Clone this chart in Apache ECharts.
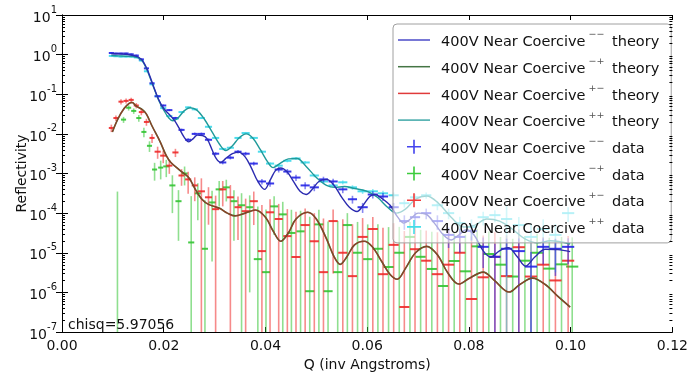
<!DOCTYPE html>
<html><head><meta charset="utf-8">
<script src="https://cdn.jsdelivr.net/npm/echarts@6/dist/echarts.min.js"></script>
<style>html,body{margin:0;padding:0;background:#fff;}#c{width:691px;height:377px;}</style>
</head><body><div id="c"></div>
<script>
// ---------- axis ticks ----------
const xTickValues = [0, 0.02, 0.04, 0.06, 0.08, 0.10, 0.12];
const yMinorTicks = [2e-7,3e-7,4e-7,5e-7,6e-7,7e-7,8e-7,9e-7,2e-6,3e-6,4e-6,5e-6,6e-6,7e-6,8e-6,9e-6,
  2e-5,3e-5,4e-5,5e-5,6e-5,7e-5,8e-5,9e-5,2e-4,3e-4,4e-4,5e-4,6e-4,7e-4,8e-4,9e-4,
  2e-3,3e-3,4e-3,5e-3,6e-3,7e-3,8e-3,9e-3,0.02,0.03,0.04,0.05,0.06,0.07,0.08,0.09,
  0.2,0.3,0.4,0.5,0.6,0.7,0.8,0.9,2,3,4,5,6,7,8,9];

// ---------- theory curves ----------
const thMM_Q = [0.0097,0.0110,0.0125,0.0140,0.0150,0.0160,0.0170,0.0180,0.0190,0.0200,0.0210,0.0220,0.0230,0.0240,0.0249,0.0258,0.0266,0.0276,0.0285,0.0295,0.0303,0.0312,0.0322,0.0335,0.0347,0.0360,0.0372,0.0385,0.0398,0.0410,0.0420,0.0430,0.0442,0.0455,0.0468,0.0480,0.0492,0.0505,0.0520,0.0535,0.0550,0.0565,0.0580,0.0592,0.0605,0.0615,0.0628,0.0645,0.0660,0.0672,0.0685,0.0700,0.0715,0.0732,0.0750,0.0765,0.0780,0.0795,0.0810,0.0828,0.0843,0.0860,0.0877,0.0895,0.0911,0.0930,0.0950,0.0975,0.0999];
const thMM_R = [1.05,1.05,1.02,0.95,0.87,0.66,0.355,0.158,7.4e-2,4.37e-2,3.16e-2,2.29e-2,1.41e-2,8.3e-3,6.3e-3,7.6e-3,9.3e-3,9.1e-3,7.6e-3,3.98e-3,2.4e-3,1.9e-3,2.4e-3,3.16e-3,3.47e-3,2.63e-3,1.41e-3,6.3e-4,3.98e-4,7.1e-4,1.2e-3,1.38e-3,1.12e-3,6.3e-4,3.55e-4,2.95e-4,3.98e-4,6.3e-4,7.1e-4,5.0e-4,2.51e-4,1.41e-4,1.1e-4,1.58e-4,2.63e-4,2.95e-4,2.4e-4,1.58e-4,7.9e-5,5.6e-5,7.1e-5,1.0e-4,9.5e-5,5.6e-5,2.8e-5,2.1e-5,2.8e-5,3.8e-5,2.8e-5,1.12e-5,7.8e-6,1.12e-5,1.35e-5,7.9e-6,4.6e-6,7.9e-6,1.23e-5,1.2e-5,1.07e-5];
const thPP_Q = [0.0097,0.0110,0.0125,0.0140,0.0150,0.0160,0.0170,0.0180,0.0190,0.0200,0.0210,0.0218,0.0228,0.0240,0.0252,0.0265,0.0280,0.0295,0.0310,0.0322,0.0335,0.0348,0.0362,0.0375,0.0390,0.0405,0.0415,0.0428,0.0445,0.0462,0.0480,0.0500,0.0520,0.0537,0.0555,0.0575,0.0600,0.0620,0.0640,0.0658,0.0675,0.0695,0.0717,0.0740,0.0765,0.0790,0.0812,0.0835,0.0860,0.0885,0.0910,0.0935,0.0960,0.0999];
const thPP_R = [0.95,0.93,0.91,0.89,0.83,0.63,0.33,0.151,7.1e-2,3.98e-2,2.51e-2,2.14e-2,2.51e-2,3.8e-2,4.57e-2,3.98e-2,2.34e-2,1.12e-2,5.4e-3,3.8e-3,5.0e-3,7.9e-3,1.0e-2,7.9e-3,3.98e-3,1.9e-3,1.41e-3,1.78e-3,2.34e-3,2.4e-3,1.51e-3,7.9e-4,5.0e-4,4.47e-4,4.68e-4,4.17e-4,3.55e-4,2.51e-4,1.41e-4,1.0e-4,1.26e-4,2.24e-4,2.7e-4,1.78e-4,7.9e-5,4.47e-5,5.0e-5,7.1e-5,6.3e-5,3.98e-5,2.24e-5,1.78e-5,2.0e-5,1.66e-5];
const thSF_Q = [0.0099,0.0110,0.0122,0.0132,0.0138,0.0146,0.0158,0.0166,0.0177,0.0193,0.0205,0.0214,0.0230,0.0249,0.0263,0.0275,0.0288,0.0310,0.0325,0.0340,0.0360,0.0380,0.0400,0.0415,0.0430,0.0445,0.0460,0.0483,0.0500,0.0520,0.0535,0.0547,0.0560,0.0575,0.0594,0.0610,0.0630,0.0645,0.0659,0.0675,0.0695,0.0717,0.0738,0.0758,0.0780,0.0800,0.0828,0.0850,0.0879,0.0900,0.0925,0.0950,0.0975,0.0999];
const thSF_R = [1.12e-2,2.4e-2,4.37e-2,5.9e-2,6.2e-2,5.0e-2,4.07e-2,3.16e-2,1.58e-2,6.3e-3,2.82e-3,1.9e-3,1.26e-3,7.9e-4,3.8e-4,2.24e-4,1.66e-4,1.32e-4,1.0e-4,8.5e-5,1.0e-4,1.2e-4,7.9e-5,3.55e-5,1.95e-5,3.16e-5,7.1e-5,1.05e-4,7.1e-5,2.24e-5,7.9e-6,5.1e-6,7.9e-6,1.58e-5,1.95e-5,1.41e-5,5.6e-6,2.82e-6,2.14e-6,3.98e-6,1.0e-5,1.45e-5,8.9e-6,3.16e-6,1.62e-6,2.24e-6,3.24e-6,2.0e-6,1.02e-6,1.58e-6,2.29e-6,1.58e-6,7.9e-7,4.27e-7];

// ---------- measured data ----------
const qA = [0.0097,0.0106,0.0116,0.0126,0.0136,0.0146,0.0156,0.0166,0.0177,0.0188,0.0199,0.0211,0.0223,0.0235,0.0248,0.0261,0.0274,0.0288,0.0302,0.0316,0.0331,0.0346,0.0361,0.0377,0.0393,0.0409,0.0426,0.0443,0.0460,0.0478,0.0496,0.0514,0.0533,0.0552,0.0571,0.0591,0.0611,0.0631,0.0652,0.0673,0.0694,0.0716,0.0738,0.0760,0.0782,0.0805,0.0828,0.0851,0.0874,0.0898,0.0922,0.0946,0.0970,0.0995];
const dqA = [0.0005,0.0005,0.0005,0.0005,0.0005,0.0005,0.0005,0.0005,0.0005,0.0006,0.0006,0.0006,0.0006,0.0006,0.0006,0.0006,0.0007,0.0007,0.0007,0.0007,0.0007,0.0007,0.0008,0.0008,0.0008,0.0008,0.0008,0.0008,0.0009,0.0009,0.0009,0.0009,0.0009,0.0009,0.0009,0.0010,0.0010,0.0010,0.0010,0.0010,0.0010,0.0010,0.0011,0.0011,0.0011,0.0011,0.0011,0.0011,0.0011,0.0012,0.0012,0.0012,0.0012,0.0012];
const rMM = [1.10,1.07,1.07,1.07,1.02,0.95,0.76,0.45,0.19,8.9e-2,5.2e-2,3.98e-2,2.51e-2,1.26e-2,7.1e-3,1.0e-2,1.0e-2,7.1e-3,3.16e-3,1.9e-3,2.51e-3,3.55e-3,3.16e-3,1.78e-3,6.3e-4,5.6e-4,1.26e-3,1.12e-3,7.9e-4,5.0e-4,4.47e-4,7.1e-4,6.3e-4,3.98e-4,2.24e-4,1.41e-4,2.95e-4,2.63e-4,1.41e-4,6.3e-5,7.9e-5,1.0e-4,6.3e-5,2.82e-5,2.51e-5,3.55e-5,1.41e-5,7.9e-6,1.26e-5,1.1e-5,4.47e-6,1.41e-5,1.26e-5,1.41e-5];
const eMM = [0.05,0.05,0.05,0.05,0.05,0.05,0.04,0.025,0.01,0.005,0.003,0.0025,0.0018,0.001,6e-4,8e-4,8e-4,6e-4,3e-4,2e-4,2.5e-4,3.5e-4,3.5e-4,2e-4,1e-4,1e-4,2e-4,1.8e-4,1.4e-4,1e-4,9e-5,1.2e-4,1.1e-4,8e-5,5e-5,4e-5,6e-5,6e-5,4e-5,2.5e-5,3e-5,3e-5,2.5e-5,1.5e-5,1.5e-5,1.5e-5,1e-5,9e-6,1e-5,1.2e-5,6e-6,9e-6,1e-5,9e-6];
const rPP = [0.93,0.91,0.89,0.89,0.89,0.85,0.71,0.38,0.178,8.9e-2,4.47e-2,2.82e-2,2.4e-2,3.55e-2,4.68e-2,4.17e-2,2.51e-2,1.51e-2,7.9e-3,4.17e-3,4.47e-3,7.9e-3,1.05e-2,7.9e-3,3.55e-3,1.78e-3,1.58e-3,2.09e-3,2.4e-3,1.9e-3,8.9e-4,6.3e-4,5.0e-4,6.0e-4,4.47e-4,3.55e-4,3.55e-4,3.16e-4,2.82e-4,1.78e-4,2.51e-4,2.82e-4,1.58e-4,1.0e-4,5.6e-5,4.47e-5,7.9e-5,8.9e-5,7.1e-5,5.0e-5,2.51e-5,3.98e-5,2.82e-5,1.0e-4];
const ePP = [0.045,0.045,0.045,0.045,0.045,0.04,0.035,0.02,0.009,0.0045,0.0025,0.0016,0.0014,0.002,0.0025,0.0022,0.0014,9e-4,5e-4,3e-4,3e-4,5e-4,7e-4,5e-4,2.5e-4,1.5e-4,1.4e-4,1.8e-4,2e-4,1.6e-4,9e-5,7e-5,6e-5,7e-5,6e-5,5e-5,5e-5,5e-5,5e-5,4e-5,5e-5,5e-5,4e-5,3e-5,2.5e-5,2.5e-5,3e-5,3e-5,8e-5,3e-5,3e-5,3e-5,2.5e-5,4e-5];
const rPM = [1.41e-2,2.51e-2,6.5e-2,6.8e-2,7.2e-2,5.2e-2,3.55e-2,2.0e-2,7.9e-3,3.55e-3,2.82e-3,1.58e-3,3.4e-3,8.9e-4,7.1e-4,5.0e-4,3.55e-4,2.51e-4,1.26e-4,3.98e-4,2.51e-4,1.41e-4,1.12e-4,2.0e-4,1.1e-5,1.05e-4,7.1e-5,2.63e-5,7.8e-6,5.0e-5,1.95e-5,3.24e-6,6.3e-5,1.0e-5,2.57e-6,2.51e-5,3.98e-5,2.88e-6,1.58e-5,4.27e-7,1.23e-5,6.3e-6,2.88e-6,5.0e-6,1.0e-5,6.8e-7,2.4e-6,7.9e-6,2.57e-6,1.38e-5,2.51e-6,5.0e-6,2.0e-6,6.3e-6];
const ePM = [3e-3,4e-3,1e-2,1e-2,1e-2,8e-3,6e-3,4e-3,2e-3,1.2e-3,1e-3,6e-4,8e-4,4e-4,4e-4,3e-4,4e-4,2e-4,1.5e-4,2.5e-4,2.6e-4,1.2e-4,1.2e-4,1.5e-4,1.5e-4,1.2e-4,1e-4,1e-4,1e-4,8e-5,8e-5,7e-5,6e-5,6e-5,5e-5,5e-5,4e-5,4e-5,4e-5,3.5e-5,3.5e-5,3e-5,3e-5,3e-5,2.5e-5,2.5e-5,2.5e-5,2.5e-5,2.5e-5,2.5e-5,2e-5,2e-5,2e-5,2e-5];
const qB = [0.0109,0.0121,0.0131,0.0141,0.0151,0.0161,0.0172,0.0182,0.0194,0.0205,0.0217,0.0229,0.0241,0.0254,0.0267,0.0281,0.0295,0.0309,0.0323,0.0338,0.0353,0.0369,0.0385,0.0401,0.0417,0.0434,0.0451,0.0469,0.0487,0.0505,0.0523,0.0542,0.0561,0.0581,0.0601,0.0621,0.0642,0.0663,0.0684,0.0705,0.0727,0.0749,0.0771,0.0793,0.0816,0.0839,0.0862,0.0886,0.0910,0.0934,0.0958,0.0982,0.1003];
const dqB = [0.0005,0.0005,0.0005,0.0005,0.0005,0.0005,0.0005,0.0005,0.0005,0.0006,0.0006,0.0006,0.0006,0.0006,0.0006,0.0006,0.0007,0.0007,0.0007,0.0007,0.0007,0.0007,0.0008,0.0008,0.0008,0.0008,0.0008,0.0008,0.0009,0.0009,0.0009,0.0009,0.0009,0.0009,0.0009,0.0010,0.0010,0.0010,0.0010,0.0010,0.0010,0.0010,0.0011,0.0011,0.0011,0.0011,0.0011,0.0011,0.0011,0.0012,0.0012,0.0012,0.0012];
const rMP = [1e-9,2.29e-2,4.57e-2,3.8e-2,2.51e-2,1.12e-2,5.0e-3,1.26e-3,1.41e-3,1.51e-3,5.0e-4,2.0e-4,1.0e-3,1.82e-5,3.16e-4,1.26e-5,1.86e-4,3.98e-4,4.47e-4,2.0e-4,1.58e-4,1.41e-4,6.9e-6,3.24e-6,1.48e-4,9.3e-5,3.16e-5,3.47e-5,1.07e-6,5.2e-5,1.07e-6,3.24e-6,5.0e-5,1.0e-5,6.9e-6,1.26e-5,4.37e-6,1.0e-5,2.51e-5,7.9e-6,3.9e-6,1.45e-6,6.2e-6,3.4e-6,1.45e-5,9.3e-6,5.0e-6,2.51e-6,6.3e-6,1.0e-5,3.98e-6,5.1e-6,4.47e-6];
const eMP = [3.5e-4,4e-3,7e-3,6e-3,5e-3,3e-3,1.5e-3,6e-4,7e-4,7e-4,4e-4,1.8e-4,5e-4,2.5e-4,2.5e-4,2e-4,1.8e-4,2.5e-4,2.5e-4,1.8e-4,1.6e-4,1.4e-4,1.4e-4,1.2e-4,1.2e-4,1e-4,9e-5,8e-5,8e-5,7e-5,6e-5,6e-5,5e-5,5e-5,4.5e-5,4e-5,4e-5,3.5e-5,3.5e-5,3e-5,3e-5,3e-5,2.5e-5,2.5e-5,2.5e-5,2.5e-5,2e-5,2e-5,2e-5,2e-5,2e-5,2e-5,2e-5];

const chisqText = 'chisq=5.97056';

// ---------- build ----------
const FONT = 'DejaVu Sans';
const NAME = (sup, kind) => '400V Near Coercive' + sup + ' ' + kind;
const MM = '\u2212\u2212', MP = '\u2212+', PM = '+\u2212', PP = '++';

function zipLine(q, r) { return q.map((x, i) => [x, r[i]]); }
function zipErr(q, r, e, dq) { return q.map((x, i) => [x, r[i], e[i], dq[i] !== undefined ? dq[i] : dq[dq.length - 1]]); }

function errRender(color) {
  return function (params, api) {
    const cs = params.coordSys;
    const top = cs.y, bot = cs.y + cs.height;
    const q = api.value(0), r = api.value(1), e = api.value(2), dq = api.value(3);
    const lo = (r - e) > 0 ? (r - e) : 1e-12;
    const hi = r + e;
    const pc = api.coord([q, r]);
    const pl = api.coord([q, lo]);
    const ph = api.coord([q, hi]);
    const ch = [];
    const y1 = Math.max(top, Math.min(bot, ph[1]));
    const y2 = Math.max(top, Math.min(bot, pl[1]));
    if (y2 - y1 > 0.5) {
      ch.push({ type: 'line', shape: { x1: pc[0], y1: y1, x2: pc[0], y2: y2 },
        style: { stroke: color, lineWidth: 1.6, opacity: 0.55 } });
    }
    if (pc[1] >= top && pc[1] <= bot) {
      const a = api.coord([q - dq, r]), b = api.coord([q + dq, r]);
      ch.push({ type: 'line', shape: { x1: a[0], y1: pc[1], x2: b[0], y2: pc[1] },
        style: { stroke: color, lineWidth: 2, opacity: 0.9 } });
    }
    return { type: 'group', children: ch };
  };
}

function errSeries(name, q, r, e, dq, color) {
  return { name: name, type: 'custom', z: 2, silent: true,
    itemStyle: { color: color },
    encode: { x: 0, y: 1 },
    data: zipErr(q, r, e, dq),
    renderItem: errRender(color) };
}
function lineSeries(name, q, r, color, width, opacity, z) {
  return { name: name, type: 'line', z: z, silent: true, symbol: 'none', showSymbol: false,
    smooth: 0.35,
    itemStyle: { color: color },
    lineStyle: { color: color, width: width, opacity: opacity },
    data: zipLine(q, r) };
}

const cData = { MM: '#2323e6', MP: '#33c433', PM: '#ee2a2a', PP: '#3ad8ea' };
const cTh = { MM: '#2b2bb0', MP: '#2d6a2d', PM: '#d42020', PP: '#1f9a9a' };

const series = [
  errSeries(NAME(MP, 'data'), qB, rMP, eMP, dqB, cData.MP),
  errSeries(NAME(PM, 'data'), qA, rPM, ePM, dqA, cData.PM),
  errSeries(NAME(PP, 'data'), qA, rPP, ePP, dqA, cData.PP),
  errSeries(NAME(MM, 'data'), qA, rMM, eMM, dqA, cData.MM),
  lineSeries(NAME(MP, 'theory'), thSF_Q, thSF_R, cTh.MP, 1.6, 1, 3),
  lineSeries(NAME(PM, 'theory'), thSF_Q, thSF_R, cTh.PM, 1.4, 0.55, 3),
  lineSeries(NAME(PP, 'theory'), thPP_Q, thPP_R, cTh.PP, 1.4, 1, 3),
  lineSeries(NAME(MM, 'theory'), thMM_Q, thMM_R, cTh.MM, 1.4, 1, 3),
  { type: 'custom', silent: true, z: 5, encode: { x: 0, y: 1 },
    data: yMinorTicks.map(v => [0, v]),
    renderItem: function (params, api) {
      const cs = params.coordSys;
      const y = Math.round(api.coord([0, api.value(1)])[1]) + 0.5;
      return { type: 'group', children: [
        { type: 'line', shape: { x1: cs.x, y1: y, x2: cs.x + 3, y2: y }, style: { stroke: '#000', lineWidth: 1 } },
        { type: 'line', shape: { x1: cs.x + cs.width, y1: y, x2: cs.x + cs.width - 3, y2: y }, style: { stroke: '#000', lineWidth: 1 } }
      ] };
    } }
];

const lineIcon = 'path://M0,6.25 H32 V7.75 H0 Z';
const crossIcon = 'path://M5.75,0 H7.25 V5.75 H13 V7.25 H7.25 V13 H5.75 V7.25 H0 V5.75 H5.75 Z';
const legendData = [
  { name: NAME(MM, 'theory'), icon: lineIcon, itemStyle: { color: '#4b4bc8' } },
  { name: NAME(MP, 'theory'), icon: lineIcon, itemStyle: { color: '#457545' } },
  { name: NAME(PM, 'theory'), icon: lineIcon, itemStyle: { color: '#e03a3a' } },
  { name: NAME(PP, 'theory'), icon: lineIcon, itemStyle: { color: '#3fa8a8' } },
  { name: NAME(MM, 'data'), icon: crossIcon, itemStyle: { color: '#4444ee' } },
  { name: NAME(MP, 'data'), icon: crossIcon, itemStyle: { color: '#3ccc3c' } },
  { name: NAME(PM, 'data'), icon: crossIcon, itemStyle: { color: '#f03a3a' } },
  { name: NAME(PP, 'data'), icon: crossIcon, itemStyle: { color: '#44dde8' } }
];

const axisLineStyle = { show: true, lineStyle: { color: '#000', width: 1 } };
function supLabel(v) {
  const ex = Math.round(Math.log10(v));
  return '{b|10}{s|' + ex + '}';
}

const option = {
  animation: false,
  backgroundColor: '#fff',
  grid: { left: 62, right: 13, top: 15, bottom: 44, containLabel: false },
  xAxis: [
    { type: 'value', min: 0, max: 0.12, interval: 0.02, position: 'bottom',
      axisLine: axisLineStyle, splitLine: { show: false },
      axisTick: { show: true, inside: true, length: 5, lineStyle: { color: '#000' } },
      axisLabel: { color: '#111', fontFamily: FONT, fontSize: 14, margin: 7,
        formatter: v => v.toFixed(2) },
      name: 'Q (inv Angstroms)', nameLocation: 'middle', nameGap: 26, nameMoveOverlap: false,
      nameTextStyle: { color: '#111', fontFamily: FONT, fontSize: 14 } },
    { type: 'value', min: 0, max: 0.12, interval: 0.02, position: 'top',
      axisLine: axisLineStyle, splitLine: { show: false },
      axisTick: { show: true, inside: true, length: 5, lineStyle: { color: '#000' } },
      axisLabel: { show: false } }
  ],
  yAxis: [
    { type: 'log', logBase: 10, min: 1e-7, max: 10, position: 'left',
      axisLine: axisLineStyle, splitLine: { show: false },
      axisTick: { show: true, inside: true, length: 6, lineStyle: { color: '#000' } },
      axisLabel: { color: '#111', fontFamily: FONT, margin: 5, formatter: supLabel,
        rich: { b: { fontSize: 14, fontFamily: FONT, color: '#111', lineHeight: 20, verticalAlign: 'bottom' },
                s: { fontSize: 10, fontFamily: FONT, color: '#111', lineHeight: 12, verticalAlign: 'top' } } },
      name: 'Reflectivity', nameLocation: 'middle', nameGap: 33, nameRotate: 90, nameMoveOverlap: false,
      nameTextStyle: { color: '#111', fontFamily: FONT, fontSize: 14 } },
    { type: 'log', logBase: 10, min: 1e-7, max: 10, position: 'right',
      axisLine: axisLineStyle, splitLine: { show: false },
      axisTick: { show: true, inside: true, length: 6, lineStyle: { color: '#000' } },
      axisLabel: { show: false } }
  ],
  legend: {
    data: legendData, orient: 'vertical', left: 393, top: 24,
    padding: [6, 12, 6, 5], itemWidth: 32, itemHeight: 14, itemGap: 6.7,
    backgroundColor: 'rgba(255,255,255,0.6)', borderColor: '#a0a0a0', borderWidth: 1, borderRadius: 4,
    selectedMode: false,
    textStyle: { color: '#111', fontFamily: FONT, fontSize: 14.5,
      rich: {
        g: { width: 6 },
        t: { fontSize: 14.5, fontFamily: FONT, color: '#111', lineHeight: 20, verticalAlign: 'bottom' },
        s: { fontSize: 9.5, fontFamily: FONT, color: '#555', lineHeight: 12, verticalAlign: 'top', padding: [0, 3, 0, 3] }
      } },
    formatter: function (name) {
      const m = name.match(/^(400V Near Coercive)(\S\S) (theory|data)$/);
      if (!m) return name;
      return '{g| }{t|' + m[1] + '}{s|' + m[2] + '}{t| ' + m[3] + '}';
    }
  },
  graphic: [
    { type: 'text', left: 68, top: 318, z: 10, silent: true,
      style: { text: chisqText, fill: '#111', font: '14px "DejaVu Sans"' } }
  ],
  series: series
};

const chart = echarts.init(document.getElementById('c'), null, { renderer: 'canvas' });
chart.setOption(option);
</script>
</body></html>
